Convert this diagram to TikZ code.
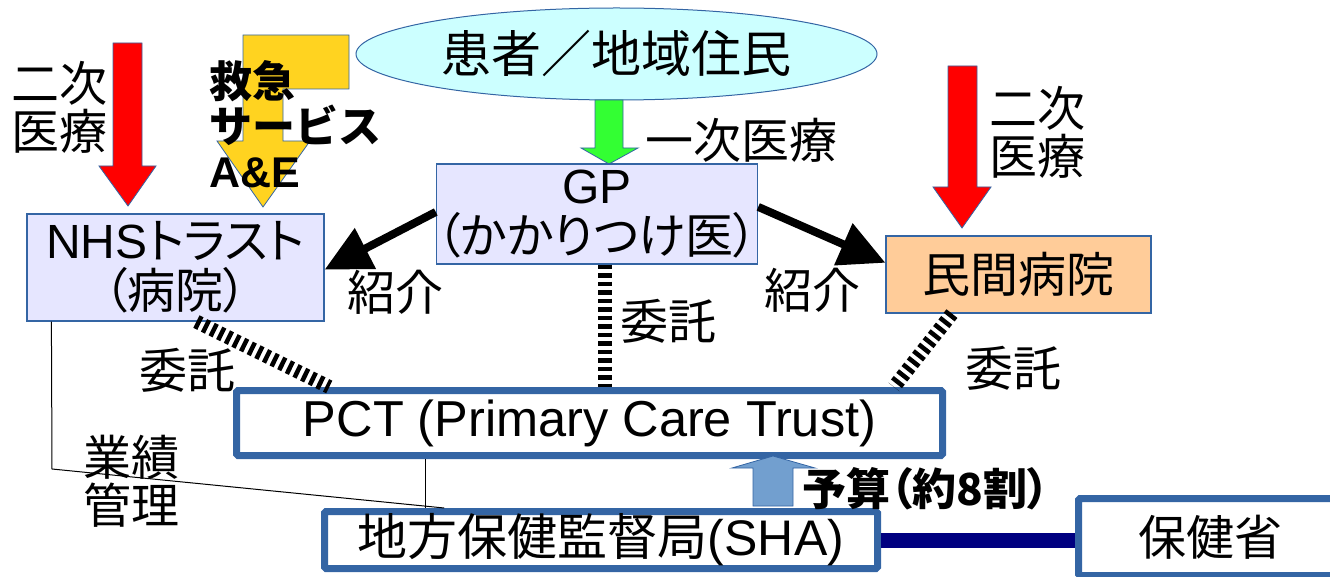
\documentclass[tikz,border=0pt]{standalone}
\usepackage{fontspec}
\setmainfont{Liberation Sans}
\newfontfamily\jp{Noto Sans CJK JP}
\newfontfamily\jpp[RawFeature=+palt]{Noto Sans CJK JP}
\usetikzlibrary{shapes.geometric,arrows.meta,calc}

\definecolor{frameblue}{HTML}{3465A4}
\definecolor{lavender}{HTML}{E6E6FF}
\definecolor{palecyan}{HTML}{CCFFFF}
\definecolor{apricot}{HTML}{FFCC99}
\definecolor{gold}{HTML}{FFD320}
\definecolor{brightgreen}{HTML}{33FF33}
\definecolor{skyblue}{HTML}{729FCF}
\definecolor{navy}{HTML}{000080}

\newcommand{\bigfont}{\fontsize{48}{50}\selectfont}

\begin{document}
\begin{tikzpicture}[x=1pt,y=-1pt]

		\tikzstyle{org}=[rectangle,
			fill=lavender,draw=frameblue,line width=1.2pt,
			inner sep=0pt,align=center,font=\bigfont]
		\tikzstyle{agency}=[rectangle,
			fill=white,draw=frameblue,line width=7pt,rounded corners=1.5pt,
			inner sep=0pt,align=center,font=\fontsize{50}{50}\selectfont]
		\tikzstyle{caption}=[inner sep=0pt,align=center,font=\fontsize{48}{48}\selectfont\jp]
		\tikzstyle{blockarrow}=[draw=frameblue,line width=0.8pt]
		\tikzstyle{refer}=[-{Triangle[length=46pt,width=44pt]},line width=8pt]
		\tikzstyle{contract}=[line width=14pt,dash pattern=on 4.5pt off 4pt]

		\useasboundingbox (0,0) rectangle (1330,577);

		% block arrows
		\filldraw[blockarrow,fill=red] (113,43) -- (142,43) -- (142,166) -- (156,166) -- (128,206) -- (99,166) -- (113,166) -- cycle;
		\filldraw[blockarrow,fill=red] (948,66) -- (977,66) -- (977,187) -- (991,187) -- (962,228) -- (933,187) -- (948,187) -- cycle;
		\filldraw[blockarrow,fill=gold] (243,35) -- (349,35) -- (349,89) -- (283,89) -- (283,141) -- (310,141) -- (263,207) -- (217,141) -- (243,141) -- cycle;

		\node[ellipse,fill=palecyan,draw=frameblue,line width=1pt,minimum width=521pt,minimum height=92pt,inner sep=0pt,font=\fontsize{50}{50}\selectfont\jp]	(people)	at (616.5,54)	{患者／地域住民};
		\filldraw[blockarrow,fill=brightgreen] (595,100) -- (623,100) -- (623,148) -- (638,148) -- (609,164) -- (581,148) -- (595,148) -- cycle;

		\node[org,minimum width=320pt,minimum height=100pt]	(gp)	at (597,214)	{GP\\{\jpp （かかりつけ医）}};
		\node[org,minimum width=297pt,minimum height=107pt]	(nhs)	at (175.5,267.5)	{NHS{\jpp トラスト}\\{\jpp （病院）}};
		\node[org,fill=apricot,minimum width=265pt,minimum height=77pt]	(private)	at (1018.5,274.5)	{\jp 民間病院};

		\node[agency,font=\fontsize{50.5}{50}\selectfont,minimum width=706pt,minimum height=65pt]	(pct)	at (589.5,423)	{PCT (Primary Care Trust)};
		\node[agency,minimum width=553pt,minimum height=57pt]	(sha)	at (601,540)	{{\jp 地方保健監督局}(SHA)};
		\node[agency,font=\bigfont,minimum width=263pt,minimum height=77pt]	(ministry)	at (1210,537)	{\jp 保健省};

		\filldraw[blockarrow,fill=skyblue] (753,506) -- (753,468) -- (732,468) -- (773,456) -- (815,468) -- (793,468) -- (793,506) -- cycle;

		\draw[refer] ($(gp.north west)!0.48!(gp.south west)$) to ($(nhs.north east)!0.52!(nhs.south east)$);
		\draw[refer] ($(gp.north east)!0.43!(gp.south east)$) to ($(private.north west)!0.35!(private.south west)$);

		\draw[contract] ($(gp.south west)!0.525!(gp.south east)$) coordinate (gpfoot) to (gpfoot |- pct.north);
		\draw[contract] ($(nhs.south west)!0.57!(nhs.south east)$) to ($(pct.north west)!0.135!(pct.north east)$);
		\draw[contract] ($(private.south west)!0.25!(private.south east)$) to ($(pct.north west)!0.927!(pct.north east)$);

		\coordinate (bend) at (52,469);
		\draw[line width=1pt] ($(nhs.south west)+(25,0)$) -- (bend) -- ($(sha.north west)!0.22!(sha.north east)$);
		\draw[line width=1pt] ($(pct.south west)+(192,0)$) coordinate (pctfoot) -- (pctfoot |- sha.north);
		\draw[navy,line width=15pt] (sha.east) -- (sha.east -| ministry.west);

		% captions
		\node[caption]	(leftsecondary)	at (59.5,107.5)	{二次\\医療};
		\node[caption]	(rightsecondary)	at (1037.5,132.5)	{二次\\医療};
		\node[caption,anchor=west,align=left,font=\fontsize{43}{45}\selectfont\bfseries]	(emergency)	at (209,124)	{{\jp 救急}\\{\jp サービス}\\A\&E};
		\node[caption]	(primary)	at (741,140)	{一次医療};
		\node[caption]	(referleft)	at (395,292)	{紹介};
		\node[caption]	(referright)	at (812,290)	{紹介};
		\node[caption]	(contractgp)	at (668,321)	{委託};
		\node[caption]	(contractnhs)	at (187,370)	{委託};
		\node[caption]	(contractprivate)	at (1013,368)	{委託};
		\node[caption]	(performance)	at (131,481)	{業績\\管理};
		\node[caption,font=\fontsize{44}{44}\selectfont\jpp\bfseries]	(budget)	at (926,489)	{予算（約8割）};

	\end{tikzpicture}
\end{document}
